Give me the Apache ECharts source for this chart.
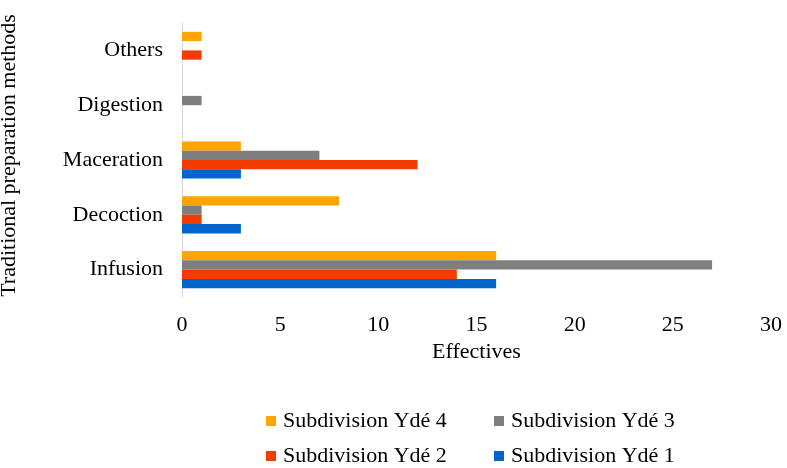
<!DOCTYPE html>
<html>
<head>
<meta charset="utf-8">
<script src="https://cdn.jsdelivr.net/npm/echarts@6/dist/echarts.min.js"></script>
<style>
  html, body { margin: 0; padding: 0; background: #fff; }
  #chart { width: 787px; height: 468px; }
</style>
</head>
<body>
<div id="chart"></div>
<script>
// Preparation methods, bottom to top on the category axis
const methods = ['Infusion', 'Decoction', 'Maceration', 'Digestion', 'Others'];

// Number of citations per subdivision
const ydé1 = [16, 3, 3, 0, 0];
const ydé2 = [14, 1, 12, 0, 1];
const ydé3 = [27, 1, 7, 1, 0];
const ydé4 = [16, 8, 3, 0, 1];

// Listed top-down within each group (ECharts stacks the first series highest)
const seriesNames = ['Subdivision Ydé 4', 'Subdivision Ydé 3', 'Subdivision Ydé 2', 'Subdivision Ydé 1'];
const seriesColors = ['#FFA500', '#7F7F7F', '#F23C00', '#0066CC'];
const seriesValues = [ydé4, ydé3, ydé2, ydé1];

const xTicks = { min: 0, max: 30, interval: 5 };

const FONT = '"Liberation Serif", "Times New Roman", serif';
const FS = 22;

const chart = echarts.init(document.getElementById('chart'), null, { renderer: 'canvas' });

function legendAt(name, left, top) {
  return {
    data: [name],
    left: left,
    top: top,
    itemWidth: 10,
    itemHeight: 10,
    itemGap: 0,
    icon: 'rect',
    selectedMode: false,
    textStyle: { fontFamily: FONT, fontSize: FS, color: '#000', lineHeight: 22, padding: [0, 0, 0, 2] },
    padding: 0
  };
}

chart.setOption({
  animation: false,
  backgroundColor: '#fff',
  grid: { left: 182, right: 16, top: 23, bottom: 171, containLabel: false, outerBoundsMode: 'none' },
  legend: [
    legendAt('Subdivision Ydé 4', 266, 410),
    legendAt('Subdivision Ydé 3', 494, 410),
    legendAt('Subdivision Ydé 2', 266, 445),
    legendAt('Subdivision Ydé 1', 494, 445)
  ],
  xAxis: {
    type: 'value',
    min: xTicks.min,
    max: xTicks.max,
    interval: xTicks.interval,
    name: 'Effectives',
    nameLocation: 'middle',
    nameGap: 44,
    nameTextStyle: { fontFamily: FONT, fontSize: FS, color: '#000' },
    axisLine: { show: false },
    axisTick: { show: false },
    splitLine: { show: false },
    axisLabel: { fontFamily: FONT, fontSize: FS, color: '#000', margin: 17 }
  },
  yAxis: {
    type: 'category',
    data: methods,
    name: 'Traditional preparation methods',
    nameLocation: 'middle',
    nameGap: 162,
    nameRotate: 90,
    nameTextStyle: { fontFamily: FONT, fontSize: FS, color: '#000', padding: [0, 0, 0, 9] },
    axisLine: { show: true, lineStyle: { color: '#D9D9D9', width: 1 } },
    axisTick: { show: false },
    splitLine: { show: false },
    axisLabel: { fontFamily: FONT, fontSize: FS, color: '#000', margin: 19 }
  },
  series: seriesNames.map((name, i) => ({
    name: name,
    type: 'bar',
    data: seriesValues[i],
    barWidth: 9.3,
    barGap: '0%',
    itemStyle: { color: seriesColors[i] }
  }))
});
</script>
</body>
</html>
